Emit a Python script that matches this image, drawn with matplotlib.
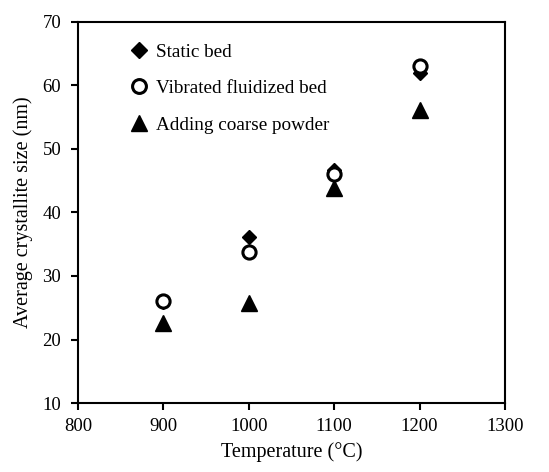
import matplotlib.pyplot as plt

plt.rcParams['font.family'] = ['Liberation Serif', 'DejaVu Serif']

temp = [900, 1000, 1100, 1200]
static_bed = [25.9, 36.1, 46.6, 61.9]
vibrated = [26.0, 33.8, 46.1, 63.0]
coarse = [22.6, 25.8, 43.9, 56.1]

fig = plt.figure(figsize=(5.49, 4.72), dpi=100)
ax = fig.add_axes([0.142, 0.146, 0.778, 0.808])

ax.plot(temp, static_bed, 'D', color='black', markersize=7.5, label='Static bed')
ax.plot(temp, vibrated, 'o', markerfacecolor='white', markeredgecolor='black',
        markeredgewidth=2.2, markersize=9.5, label='Vibrated fluidized bed')
ax.plot(temp, coarse, '^', color='black', markersize=11.5, label='Adding coarse powder')

ax.set_xlim(800, 1300)
ax.set_ylim(10, 70)
ax.set_xticks(range(800, 1301, 100))
ax.set_yticks(range(10, 71, 10))
ax.tick_params(direction='out', length=5, width=1.5, labelsize=13.5)
ax.tick_params(axis='x', pad=6)
ax.tick_params(axis='y', pad=7)
for s in ax.spines.values():
    s.set_linewidth(1.5)

ax.set_xlabel('Temperature (°C)', fontsize=14.5, labelpad=5)
ax.set_ylabel('Average crystallite size (nm)', fontsize=14.5, labelpad=7)

ax.legend(loc='upper left', frameon=False, fontsize=13.8, handlelength=1.0,
          handletextpad=0.4, borderaxespad=0, bbox_to_anchor=(0.103, 0.964),
          labelspacing=1.0, markerscale=1.05)

fig.savefig('out.png', dpi=100)
